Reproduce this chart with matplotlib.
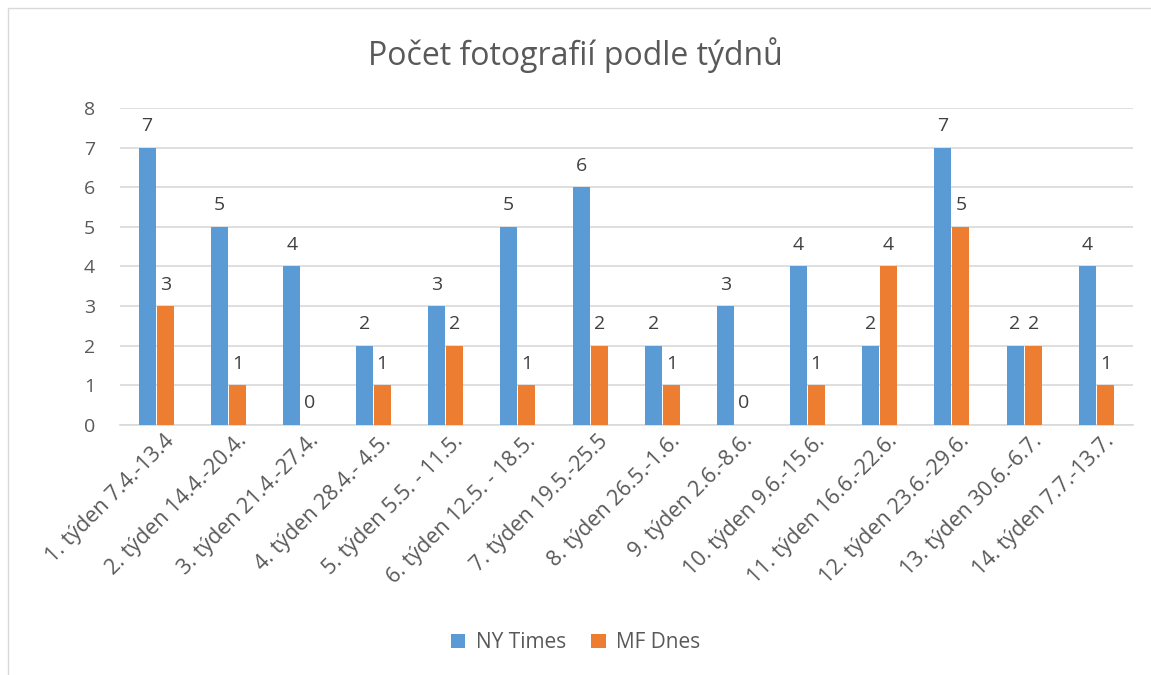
import numpy as np
import matplotlib.pyplot as plt
from matplotlib.patches import Rectangle

weeks = ['1. týden 7.4.-13.4', '2. týden 14.4.-20.4.', '3. týden 21.4.-27.4.',
         '4. týden 28.4.- 4.5.', '5. týden 5.5. - 11.5.', '6. týden 12.5. - 18.5.',
         '7. týden 19.5.-25.5', '8. týden 26.5.-1.6.', '9. týden 2.6.-8.6.',
         '10. týden 9.6.-15.6.', '11. týden 16.6.-22.6.', '12. týden 23.6.-29.6.',
         '13. týden 30.6.-6.7.', '14. týden 7.7.-13.7.']
ny_times = [7, 5, 4, 2, 3, 5, 6, 2, 3, 4, 2, 7, 2, 4]
mf_dnes = [3, 1, 0, 1, 2, 1, 2, 1, 0, 1, 4, 5, 2, 1]

blue = '#5B9BD5'
orange = '#ED7D31'
text_col = '#595959'
plt.rcParams['font.family'] = ['Open Sans', 'DejaVu Sans']

fig = plt.figure(figsize=(11.51, 6.75), dpi=100)
ax = fig.add_axes([0.1043, 0.3704, 0.8797, 0.4696])

# thin chart border
fig.patches.append(Rectangle((0.007, -0.02), 1.2, 1.008, transform=fig.transFigure,
                             fill=False, edgecolor='#D9D9D9', linewidth=1))

x = np.arange(len(weeks))
w = 0.235
b1 = ax.bar(x - 0.125, ny_times, w, color=blue, label='NY Times', zorder=3)
b2 = ax.bar(x + 0.125, mf_dnes, w, color=orange, label='MF Dnes', zorder=3)
ax.bar_label(b1, padding=9, fontsize=14, color='#404040')
ax.bar_label(b2, padding=9, fontsize=14, color='#404040')

ax.set_xlim(-0.5, len(weeks) - 0.5)
ax.set_ylim(0, 8)
ax.set_yticks(range(0, 9))
ax.yaxis.grid(True, color='#D9D9D9', linewidth=1.2, zorder=0)
ax.set_axisbelow(True)
for s in ['top', 'right', 'left']:
    ax.spines[s].set_visible(False)
ax.spines['bottom'].set_color('#D9D9D9')
ax.spines['bottom'].set_linewidth(1.2)
ax.tick_params(axis='both', length=0, labelsize=14, colors=text_col)
ax.tick_params(axis='y', pad=18)
ax.tick_params(axis='x', labelsize=15.5, pad=4)
ax.set_xticks(x + 0.1)
ax.set_xticklabels(weeks, rotation=45, ha='right', rotation_mode='anchor')

fig.text(0.5, 0.918, 'Počet fotografií podle týdnů', ha='center', va='center',
         fontsize=23, color=text_col)

fig.legend(loc='center', bbox_to_anchor=(0.5, 0.048), ncol=2, frameon=False,
           fontsize=15, labelcolor=text_col, handlelength=0.7, handleheight=0.7,
           columnspacing=1.2, handletextpad=0.5)

fig.savefig('out.png', dpi=100)
